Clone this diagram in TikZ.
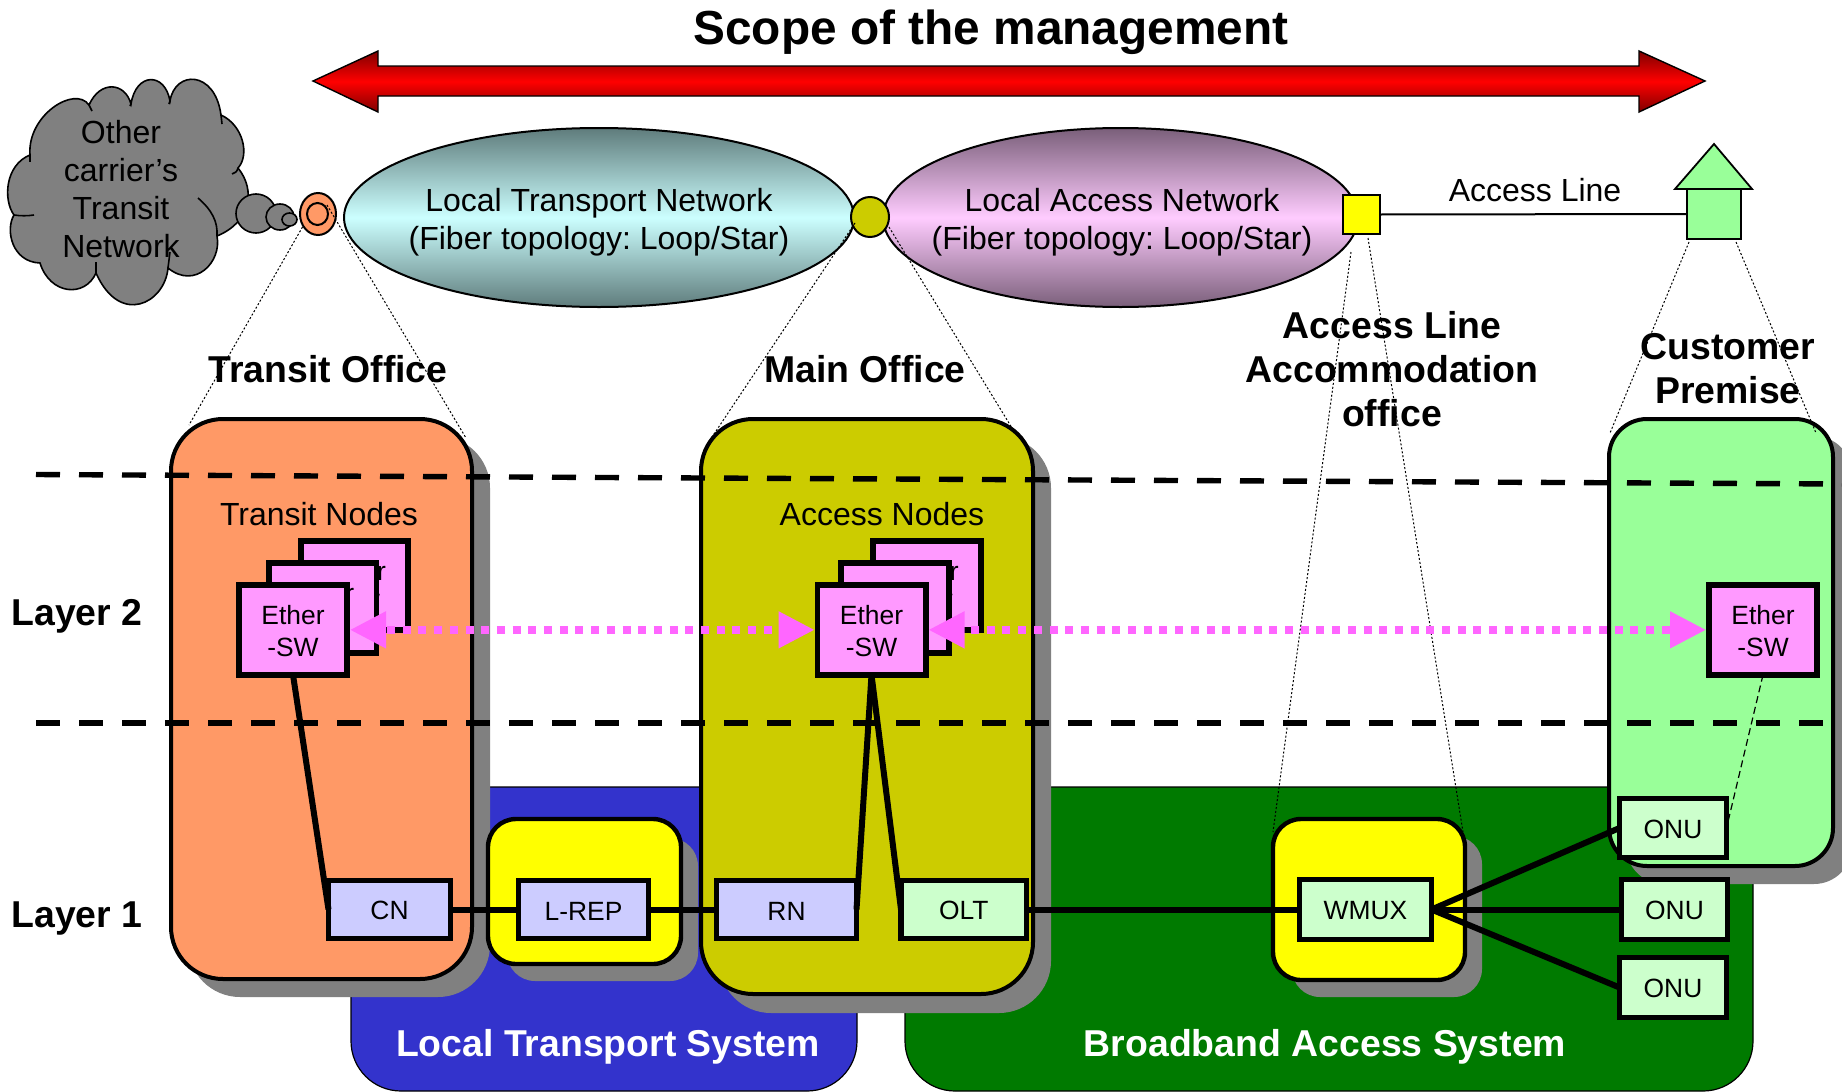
\documentclass[tikz,border=0pt]{standalone}
\usepackage{fontspec}
\setmainfont{Liberation Sans}
\usetikzlibrary{shapes.geometric,arrows.meta}
\frenchspacing
\definecolor{cOrange}{HTML}{FF9966}
\definecolor{cOlive}{HTML}{CCCC00}
\definecolor{cGreen}{HTML}{99FF99}
\definecolor{cPaleG}{HTML}{CCFFCC}
\definecolor{cPaleB}{HTML}{CCCCFF}
\definecolor{cPink}{HTML}{FF99FF}
\definecolor{cMag}{HTML}{FF66FF}
\definecolor{cBlue}{HTML}{3333CC}
\definecolor{cDkGreen}{HTML}{007A00}
\definecolor{cGray}{HTML}{808080}
\definecolor{cTealE}{HTML}{5F7C7C}
\definecolor{cTealM}{HTML}{CCFFFF}
\definecolor{cPurpE}{HTML}{7A5F7A}
\definecolor{cPurpM}{HTML}{FFCCFF}
\definecolor{cDkRed}{HTML}{7F0000}
\definecolor{cRed}{HTML}{FF0000}
\definecolor{cYellow}{HTML}{FFFF00}
\tikzset{
  x=.5pt,y=-.5pt,
  shp/.style={inner sep=0pt,outer sep=0pt,align=center},
  officebox/.style={shp,rectangle,draw=black,line width=2pt,rounded corners=26pt},
  sysbox/.style={shp,rectangle,draw=black,line width=.6pt,rounded corners=25pt},
  yellowbox/.style={shp,rectangle,draw=black,fill=cYellow,line width=2.2pt,rounded corners=14pt},
  smallbox/.style={shp,rectangle,draw=black,line width=2.9pt,font=\fontsize{13.2}{16}\selectfont},
  etherbox/.style={smallbox,fill=cPink},
  blueunit/.style={smallbox,fill=cPaleB,execute at begin node=\rule{0pt}{10.5pt}},
  greenunit/.style={smallbox,fill=cPaleG,execute at begin node=\rule{0pt}{10.5pt}},
  oval/.style={shp,ellipse,draw=black,line width=1pt},
  netlabel/.style={font=\fontsize{16}{19}\selectfont,align=center},
  boldlabel/.style={font=\fontsize{18.7}{22}\selectfont\bfseries,align=center},
  shadowpart/.style={fill=cGray,draw=none},
  layerline/.style={draw=black,line width=2.7pt,dash pattern=on 12pt off 9.5pt},
  dotline/.style={draw=black,line width=.5pt,dash pattern=on 1pt off 1pt},
  linkline/.style={draw=black,line width=3pt},
  magarrow/.style={draw=cMag,line width=3.9pt,dash pattern=on 4pt off 3.85pt,dash phase=#1,
    shorten <=1.45pt,shorten >=1.45pt,
    {Triangle[length=18pt,width=17.5pt,fill=cMag]}-{Triangle[length=18pt,width=17.5pt,fill=cMag]}},
}
\def\ins{0}
% style, name, x1, y1, x2, y2, text (outer extents in reference pixels)
\newcommand\bx[7]{%
  \node[#1,minimum width={(#5-#3-2*\ins)*.5pt},minimum height={(#6-#4-2*\ins)*.5pt}]
    (#2) at ({(#3+#5)/2},{(#4+#6)/2}) {#7};}
\begin{document}
\begin{tikzpicture}
\path[use as bounding box,clip] (0,0) rectangle (1842,1092);
\fill[white] (0,0) rectangle (1842,1092);

% system backgrounds
\def\ins{0}
\bx{sysbox,fill=cBlue}{blueSys}{351}{787}{857}{1091}{}
\bx{sysbox,fill=cDkGreen}{greenSys}{905}{787}{1753}{1091}{}

% shadows
\fill[shadowpart,rounded corners=26pt] (188,436) rectangle (490,997);
\fill[shadowpart,rounded corners=26pt] (719,436) rectangle (1051,1013);
\fill[shadowpart,rounded corners=14pt] (507,838) rectangle (698,981);
\fill[shadowpart,rounded corners=14pt] (1292,836) rectangle (1482,997);
\fill[shadowpart,rounded corners=19pt] (1626,436) rectangle (1852,884);

% office boxes
\def\ins{1}
\bx{officebox,fill=cOrange}{transitBox}{170}{418}{473}{980}{}
\bx{officebox,fill=cOlive}{mainBox}{700}{418}{1034}{995}{}
\bx{officebox,fill=cGreen,rounded corners=19pt}{custBox}{1608}{418}{1834}{867}{}
\bx{yellowbox}{repBox}{487}{818}{682}{965}{}
\bx{yellowbox}{wmuxBox}{1272}{818}{1466}{981}{}

% layer boundaries
\coordinate (l2a) at (36,474.5);
\coordinate (l2b) at (1842,484);
\coordinate (l1a) at (36,723);
\coordinate (l1b) at (1842,723);
\draw[layerline] (l2a) -- (l2b);
\draw[layerline] (l1a) -- (l1b);

% top row
\coordinate (arrowL) at (313,81);
\coordinate (arrowR) at (1705,81);
\path[draw=black,line width=.7pt,top color=cDkRed,bottom color=cDkRed,middle color=cRed]
  (arrowL) -- (378,51) -- (378,66) -- (1639,66) -- (1639,51) -- (arrowR)
  -- (1639,112) -- (1639,96) -- (378,96) -- (378,112) -- cycle;
\node[font=\fontsize{23.9}{28}\selectfont\bfseries] (title) at (991,32) {Scope of the management};

% cloud
\path[fill=cGray,draw=black,line width=.8pt]
  (131,104) .. controls (136,72) and (165,72) .. (170,101)
  .. controls (175,70) and (215,70) .. (221,115)
  .. controls (243,125) and (250,155) .. (238,168)
  .. controls (256,190) and (251,222) .. (217,236)
  .. controls (222,262) and (195,290) .. (168,268)
  .. controls (165,303) and (120,327) .. (96,273)
  .. controls (85,298) and (50,295) .. (40,263)
  .. controls (12,262) and (5,230) .. (14,215)
  .. controls (3,200) and (5,165) .. (30,155)
  .. controls (27,115) and (75,85) .. (89,105)
  .. controls (100,80) and (125,82) .. (131,104) -- cycle;
\draw[line width=.8pt] (131,104) -- (130,106);
\draw[line width=.8pt] (170,101) -- (169,104);
\draw[line width=.8pt] (221,115) -- (222,124);
\draw[line width=.8pt] (238,168) .. controls (237,172) and (235,173) .. (232,174);
\draw[line width=.8pt] (198,198) .. controls (212,210) and (218,222) .. (217,236);
\draw[line width=.8pt] (14,215) .. controls (20,216) and (28,216) .. (34,215);
\draw[line width=.8pt] (30,155) -- (30,162);
\draw[line width=.8pt] (89,105) -- (92,111);
\draw[line width=.8pt] (96,273) -- (96,262);
\draw[line width=.8pt] (168,268) -- (170,252);
\def\ins{0}
\bx{oval,fill=cGray,line width=.8pt}{bub1}{236}{194}{276}{233}{}
\bx{oval,fill=cGray,line width=.8pt}{bub2}{266}{204}{294}{230}{}
\bx{oval,fill=cGray,line width=.8pt}{bub3}{282}{213}{297}{226}{}
\node[netlabel] (cloudText) at (121,189)
  {Other\\carrier’s\\Transit\\Network};

% ellipses
\bx{oval,top color=cTealE,bottom color=cTealE,middle color=cTealM}{ltn}{344}{128}{854}{307}{}
\bx{oval,top color=cPurpE,bottom color=cPurpE,middle color=cPurpM}{lan}{883}{128}{1358}{307}{}
\node[netlabel] (ltnText) at (599,222) {Local Transport Network\\(Fiber topology: Loop/Star)};
\node[netlabel] (lanText) at (1122,222) {Local Access Network\\(Fiber topology: Loop/Star)};
\bx{oval,fill=cOrange}{portT}{300}{193}{336}{235}{}
\bx{oval,fill=none}{portTin}{307}{203}{328}{225}{}
\bx{oval,fill=cOlive}{portM}{851}{197}{889}{237}{}
\bx{shp,rectangle,draw=black,fill=cYellow,line width=.9pt}{portA}{1343}{195}{1380}{234}{}
\bx{shp,rectangle,draw=black,fill=cGreen,line width=.9pt}{houseBody}{1687}{189}{1741}{239}{}
\path[draw=black,fill=cGreen,line width=.9pt] (1714,144) -- (1752,189) -- (1675,189) -- cycle;
\draw[black,line width=1pt] (portA.east) -- (houseBody.west);
\node[netlabel] (accessLine) at (1535,190) {Access Line};

% office labels
\node[boldlabel] (lblTransit) at (328,369) {Transit Office};
\node[boldlabel] (lblMain) at (865,369) {Main Office};
\node[boldlabel] (lblAccess) at (1392,369) {Access Line\\Accommodation\\office};
\node[boldlabel] (lblCust) at (1728,369) {Customer\\Premise};
\node[boldlabel] (lblL2) at (77,616) {Layer 2};
\node[boldlabel] (lblL1) at (77,919) {Layer 1};
\node[netlabel] (lblTN) at (319,514) {Transit Nodes};
\node[netlabel] (lblAN) at (882,514) {Access Nodes};

% dotted zoom lines
\coordinate (dA) at (302.5,227); \coordinate (dAe) at (189,425);
\coordinate (dB) at (327,205);   \coordinate (dBe) at (466,438);
\coordinate (dC) at (855,223);   \coordinate (dCe) at (712,437);
\coordinate (dD) at (889,227);   \coordinate (dDe) at (1012,428);
\coordinate (dE) at (1351,252);  \coordinate (dEe) at (1273,832);
\coordinate (dF) at (1368,238);  \coordinate (dFe) at (1463,832);
\coordinate (dG) at (1689,242);  \coordinate (dGe) at (1610,433);
\coordinate (dH) at (1736,242);  \coordinate (dHe) at (1816,433);
\foreach \p/\q in {dA/dAe,dB/dBe,dC/dCe,dD/dDe,dE/dEe,dF/dFe,dG/dGe,dH/dHe}
  \draw[dotline] (\p) -- (\q);

% Ethernet switches
\def\ins{2.9}
\def\eth{\rule{0pt}{11pt}Ether\\-SW}
\bx{etherbox}{ethT3}{297.7}{538}{411}{633}{\eth}
\bx{etherbox}{ethT2}{265.7}{560}{379.3}{655.7}{\eth}
\bx{etherbox}{ethT1}{236}{582}{350}{677.7}{\eth}
\bx{etherbox}{ethA3}{870}{538}{984}{633}{\eth}
\bx{etherbox}{ethA2}{838}{560}{951.5}{655.7}{\eth}
\bx{etherbox}{ethA1}{814.5}{582}{928.5}{677.7}{\eth}
\bx{etherbox}{ethC}{1706}{582}{1820}{677.7}{\eth}

% layer 1 units
\def\ins{1.5}
\bx{blueunit}{cn}{327}{879}{452}{940}{CN}
\bx{blueunit}{lrep}{517}{879}{650}{940}{L-REP}
\bx{blueunit}{rn}{715}{879}{858}{940}{RN}
\bx{greenunit}{olt}{899.5}{879}{1028}{940}{OLT}
\bx{greenunit}{wmux}{1298}{878}{1433}{941}{WMUX}
\bx{greenunit}{onuA}{1618}{797}{1728}{859}{ONU}
\bx{greenunit}{onuB}{1620}{878}{1729}{941}{ONU}
\bx{greenunit}{onuC}{1618}{956}{1728}{1019}{ONU}

% links
\draw[linkline] (ethT1.south) -- (cn.west);
\draw[linkline] (ethA1.south) -- (rn.east);
\draw[linkline] (ethA1.south) -- (olt.west);
\draw[linkline] (cn.east) -- (lrep.west);
\draw[linkline] (lrep.east) -- (rn.west);
\draw[linkline] (olt.east) -- (wmux.west);
\draw[linkline] (wmux.east) -- (onuA.west);
\draw[linkline] (wmux.east) -- (onuB.west);
\draw[linkline] (wmux.east) -- (onuC.west);
\draw[black,line width=.6pt,dash pattern=on 3.5pt off 2pt] (ethC.south) -- (onuA.east);

% layer 2 connectivity
\draw[magarrow=6.35pt] (ethT1.east) -- (ethA1.west);
\draw[magarrow=3.6pt] (ethA1.east) -- (ethC.west);

% system labels
\node[boldlabel,text=white] (lblLTS) at (608,1047) {Local Transport System};
\node[boldlabel,text=white] (lblBAS) at (1325,1047) {Broadband Access System};
\end{tikzpicture}
\end{document}
